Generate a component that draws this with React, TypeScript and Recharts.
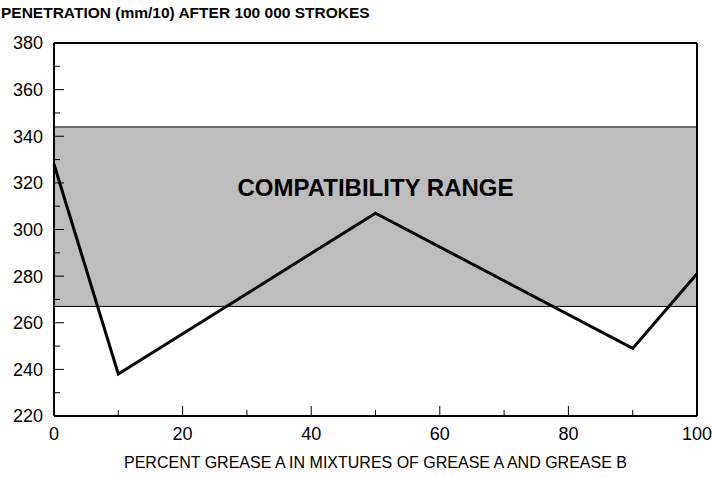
import {
  LineChart,
  Line,
  XAxis,
  YAxis,
  ReferenceArea,
  ReferenceLine,
  ReferenceDot,
} from "recharts";

const percentA = [0, 10, 50, 90, 100];
const penetration = [328, 238, 307, 249, 281];

const xTicks = [0, 10, 20, 30, 40, 50, 60, 70, 80, 90, 100];
const yTicks = [220, 230, 240, 250, 260, 270, 280, 290, 300, 310, 320, 330, 340, 350, 360, 370, 380];

const rangeLow = 267;
const rangeHigh = 344;

const title = "PENETRATION (mm/10) AFTER 100 000 STROKES";
const xTitle = "PERCENT GREASE A IN MIXTURES OF GREASE A AND GREASE B";
const rangeLabel = "COMPATIBILITY RANGE";

const data = percentA.map((p, i) => ({ p, v: penetration[i] }));

const FONT = "'Liberation Sans', Arial, sans-serif";
const X_MARGIN = 10;
const Y_MARGIN = 11;

const XTick = (props: any) => {
  const { x, y, payload } = props;
  const v = payload.value;
  const major = v % 20 === 0;
  const axisY = y - X_MARGIN;
  return (
    <g>
      <line x1={x} x2={x} y1={axisY} y2={axisY - (major ? 10 : 6)} stroke="#000" strokeWidth={1} />
      {major && (
        <text x={x} y={y} dy="0.8em" textAnchor="middle" fontSize={18} fontFamily={FONT} fill="#000">
          {v}
        </text>
      )}
    </g>
  );
};

const YTick = (props: any) => {
  const { x, y, payload } = props;
  const v = payload.value;
  const major = v % 20 === 0;
  const axisX = x + Y_MARGIN;
  return (
    <g>
      <line x1={axisX} x2={axisX + (major ? 10 : 6)} y1={y} y2={y} stroke="#000" strokeWidth={1} />
      {major && (
        <text x={x} y={y} dy="0.36em" textAnchor="end" fontSize={18} fontFamily={FONT} fill="#000">
          {v}
        </text>
      )}
    </g>
  );
};

export default function App() {
  return (
    <div style={{ position: "absolute", left: 0, top: 0, width: 712, height: 477, background: "#fff" }}>
      <div
        style={{
          position: "absolute",
          left: 1,
          top: 4,
          fontFamily: FONT,
          fontSize: 15.5,
          fontWeight: "bold",
          color: "#000",
          whiteSpace: "nowrap",
        }}
      >
        {title}
      </div>
      <LineChart
        width={712}
        height={477}
        data={data}
        margin={{ top: 43, right: 15, bottom: 0, left: 0 }}
      >
        <ReferenceArea
          y1={rangeLow}
          y2={rangeHigh}
          fill="#bdbdbd"
          fillOpacity={1}
          stroke="#000"
          strokeWidth={1}
        />
        <ReferenceDot
          x={50}
          y={318}
          r={0}
          fill="none"
          stroke="none"
          label={{
            value: rangeLabel,
            position: "center",
            fontSize: 24,
            fontWeight: "bold",
            fontFamily: FONT,
            fill: "#000",
          }}
        />
        <ReferenceLine y={380} stroke="#000" strokeWidth={2} />
        <ReferenceLine x={100} stroke="#000" strokeWidth={2} />
        <XAxis
          dataKey="p"
          type="number"
          domain={[0, 100]}
          ticks={xTicks}
          interval={0}
          height={61}
          tickSize={0}
          tickMargin={X_MARGIN}
          tickLine={false}
          axisLine={{ stroke: "#000", strokeWidth: 2 }}
          tick={<XTick />}
          label={{
            value: xTitle,
            position: "insideBottom",
            offset: 9,
            fontSize: 16,
            fontFamily: FONT,
            fill: "#000",
          }}
        />
        <YAxis
          type="number"
          domain={[220, 380]}
          ticks={yTicks}
          interval={0}
          width={54}
          tickSize={0}
          tickMargin={Y_MARGIN}
          tickLine={false}
          axisLine={{ stroke: "#000", strokeWidth: 2 }}
          tick={<YTick />}
        />
        <Line
          dataKey="v"
          type="linear"
          stroke="#000"
          strokeWidth={3}
          dot={false}
          isAnimationActive={false}
        />
      </LineChart>
    </div>
  );
}
